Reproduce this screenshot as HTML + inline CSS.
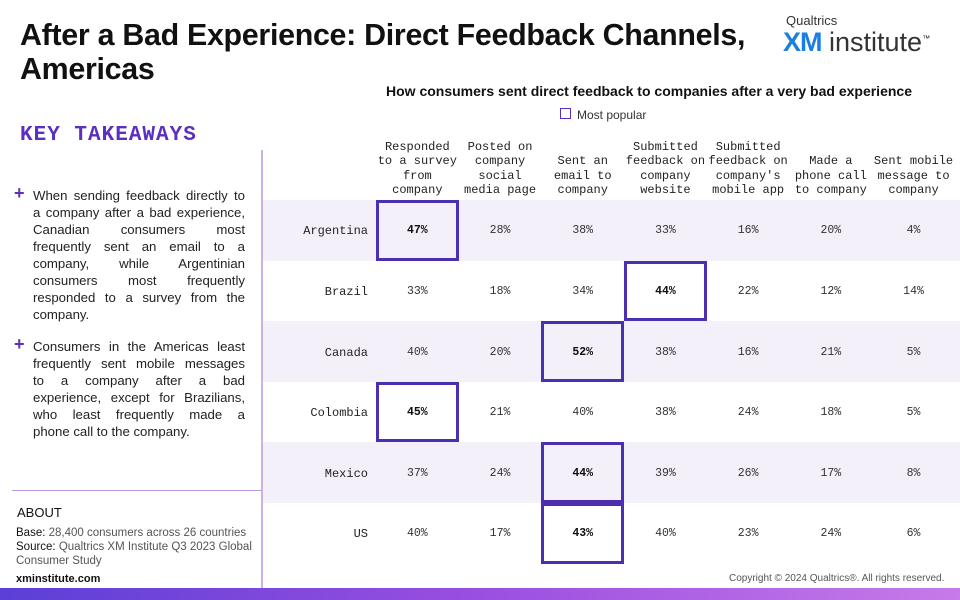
<!DOCTYPE html>
<html><head><meta charset="utf-8">
<style>
*{margin:0;padding:0;box-sizing:border-box}
body{width:960px;height:600px;overflow:hidden;background:#fff;font-family:"Liberation Sans",sans-serif;position:relative;color:#111}
.abs{position:absolute}
.title{left:20px;top:18px;font-size:31px;font-weight:bold;line-height:34px;transform:scaleX(0.98);transform-origin:left top;white-space:nowrap;letter-spacing:-0.3px}
.kt{left:20px;top:124px;font-family:"Liberation Mono",monospace;font-weight:bold;font-size:21px;color:#5a2fc2;letter-spacing:1px}
.bl{left:33px;width:212px;font-size:13.2px;line-height:17px;color:#222}
.bl div{text-align:justify;text-align-last:justify;white-space:nowrap}
.bl div.last{text-align-last:left}
.plus{left:14px;font-size:18px;color:#5a2fc2;font-weight:bold}
.mono{font-family:"Liberation Mono",monospace}
</style></head><body>
<div class="abs title">After a Bad Experience: Direct Feedback Channels,<br>Americas</div>
<div class="abs" style="left:786px;top:13px;font-size:13px;color:#333">Qualtrics</div>
<div class="abs" style="left:783px;top:27px;font-size:27px;white-space:nowrap"><b style="color:#1a7fe0;letter-spacing:-1px">XM</b><span style="color:#333"> institute</span><sup style="font-size:8px">™</sup></div>
<div class="abs" style="left:386px;top:83px;font-size:14px;font-weight:bold;white-space:nowrap">How consumers sent direct feedback to companies after a very bad experience</div>
<div class="abs" style="left:560px;top:108px;width:11px;height:11px;border:1.5px solid #5a2fc2"></div>
<div class="abs" style="left:577px;top:108px;font-size:12px;color:#333">Most popular</div>
<div class="abs kt">KEY TAKEAWAYS</div>
<div class="abs plus" style="top:183px">+</div>
<div class="abs bl" style="top:187px">
<div>When sending feedback directly to</div><div>a company after a bad experience,</div><div>Canadian consumers most</div><div>frequently sent an email to a</div><div>company, while Argentinian</div><div>consumers most frequently</div><div>responded to a survey from the</div><div class="last">company.</div></div>
<div class="abs plus" style="top:334px">+</div>
<div class="abs bl" style="top:338px">
<div>Consumers in the Americas least</div><div>frequently sent mobile messages</div><div>to a company after a bad</div><div>experience, except for Brazilians,</div><div>who least frequently made a</div><div class="last">phone call to the company.</div></div>
<div class="abs" style="left:12px;top:490px;width:250px;height:1px;background:#b89ad8"></div>
<div class="abs" style="left:17px;top:505px;font-size:13px">ABOUT</div>
<div class="abs" style="left:16px;top:526px;width:245px;font-size:11.5px;line-height:14px;color:#555"><span style="color:#111">Base:</span> 28,400 consumers across 26 countries<br><span style="color:#111">Source:</span> Qualtrics XM Institute Q3 2023 Global Consumer Study</div>
<div class="abs" style="left:16px;top:573px;font-size:11px;font-weight:bold">xminstitute.com</div>
<div class="abs" style="left:729px;top:573px;font-size:10px;color:#555">Copyright © 2024 Qualtrics®. All rights reserved.</div>
<div class="abs" style="left:0;top:588px;width:960px;height:12px;background:linear-gradient(90deg,#5b3fd6,#9a4fe0,#c77ae8)"></div>
<div class="abs" style="left:261px;top:150px;width:2px;height:438px;background:#c9b3e6"></div>
<div id="tbl"></div>
<script>
const countries=["Argentina","Brazil","Canada","Colombia","Mexico","US"];
const channels=["Responded\nto a survey\nfrom\ncompany","Posted on\ncompany\nsocial\nmedia page","Sent an\nemail to\ncompany","Submitted\nfeedback on\ncompany\nwebsite","Submitted\nfeedback on\ncompany's\nmobile app","Made a\nphone call\nto company","Sent mobile\nmessage to\ncompany"];
const argentina=[47,28,38,33,16,20,4];
const brazil=[33,18,34,44,22,12,14];
const canada=[40,20,52,38,16,21,5];
const colombia=[45,21,40,38,24,18,5];
const mexico=[37,24,44,39,26,17,8];
const us=[40,17,43,40,23,24,6];
const values=[argentina,brazil,canada,colombia,mexico,us];
const x0=376,cw=82.7,y0=200,rh=60.6;
const root=document.getElementById('tbl');
function colX(i){return x0+i*cw;}
function rowY(r){return y0+r*rh;}
channels.forEach((c,i)=>{
 const d=document.createElement('div');
 
 
 const lines=c.split('\n');
 d.className='abs mono';
 d.style.cssText=`left:${colX(i)-6}px;width:${cw+12}px;top:${200-lines.length*14.2-3}px;font-size:12px;line-height:14.2px;text-align:center;white-space:pre;color:#222`;
 d.textContent=c;root.appendChild(d);
});
countries.forEach((cn,r)=>{
 if(r%2==0){const b=document.createElement('div');
 
 
 b.className='abs';b.style.cssText=`left:263px;top:${rowY(r)}px;width:697px;height:${rh}px;background:#f3f0fa`;root.appendChild(b);}
 const l=document.createElement('div');
 
 
 l.className='abs mono';l.style.cssText=`left:263px;width:105px;text-align:right;top:${rowY(r)+rh/2-6}px;font-size:12px;color:#222`;
 l.textContent=cn;root.appendChild(l);
 const vals=values[r];const mx=Math.max(...vals);
 vals.forEach((v,i)=>{
  const t=document.createElement('div');
  
  
  t.className='abs mono';t.style.cssText=`left:${colX(i)}px;width:${cw}px;text-align:center;top:${rowY(r)+rh/2-6}px;font-size:11.5px;color:#333;${v===mx?'font-weight:bold;color:#111':''}`;
  t.textContent=v+'%';root.appendChild(t);
  if(v===mx){const bx=document.createElement('div');
  
  
  bx.className='abs';bx.style.cssText=`left:${colX(i)}px;top:${rowY(r)}px;width:${cw}px;height:${rh}px;border:3px solid #4b2fb0`;root.appendChild(bx);}
 });
});
</script>
</body></html>
